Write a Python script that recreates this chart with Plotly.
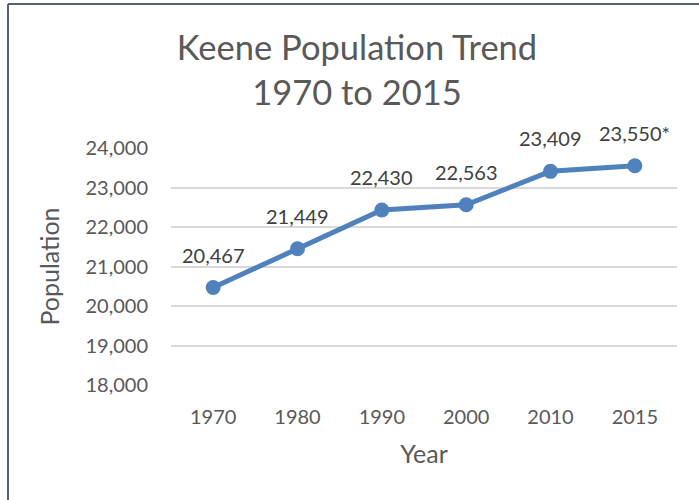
import plotly.graph_objects as go

years = ["1970", "1980", "1990", "2000", "2010", "2015"]
population = [20467, 21449, 22430, 22563, 23409, 23550]
labels = ["20,467", "21,449", "22,430", "22,563", "23,409", "23,550*"]
y_ticks = [18000, 19000, 20000, 21000, 22000, 23000, 24000]
y_tick_text = ["18,000", "19,000", "20,000", "21,000", "22,000", "23,000", "24,000"]

FONT = "Lato, Calibri, sans-serif"
TXT = "#595959"

fig = go.Figure()
fig.add_trace(go.Scatter(
    x=years, y=population, mode="lines+markers",
    line=dict(color="#4f81bd", width=5),
    marker=dict(color="#4f81bd", size=15),
    cliponaxis=False, showlegend=False, hoverinfo="x+y",
))

annotations = [
    dict(x=i, y=y, xref="x", yref="y", text=t, showarrow=False, yshift=33,
         font=dict(family=FONT, size=20, color="#404040"))
    for i, (y, t) in enumerate(zip(population, labels))
]

L, R, T, B = 171, 22, 148, 115
pw = 699 - L - R
ph = 500 - T - B
bx = (8 - L) / pw
by = (500 - B - 4) / ph

fig.update_layout(
    width=699, height=500,
    margin=dict(l=L, r=R, t=T, b=B),
    paper_bgcolor="white", plot_bgcolor="white",
    font=dict(family=FONT, color=TXT, size=20),
    title=dict(text="Keene Population Trend<br>1970 to 2015",
               x=357 / 699, xanchor="center",
               y=1 - 60 / 500, yanchor="middle",
               font=dict(family=FONT, size=34.5, color=TXT)),
    xaxis=dict(type="category", range=[-0.5, 5.5], showgrid=False,
               showline=False, zeroline=False, ticks="",
               ticklabelstandoff=18,
               tickfont=dict(family=FONT, size=20, color=TXT),
               title=dict(text="Year", standoff=18,
                          font=dict(family=FONT, size=25, color=TXT))),
    yaxis=dict(range=[18000, 24000], tickvals=y_ticks, ticktext=y_tick_text,
               showgrid=True, gridcolor="#d9d9d9", gridwidth=1.5,
               zeroline=False, showline=False, ticks="",
               ticklabelstandoff=22,
               tickfont=dict(family=FONT, size=20, color=TXT),
               title=dict(text="Population", standoff=18,
                          font=dict(family=FONT, size=25, color=TXT))),
    annotations=annotations,
    shapes=[
        dict(type="line", xref="paper", yref="paper", x0=bx, x1=bx, y0=by, y1=-1,
             line=dict(color="#56627a", width=2)),
        dict(type="line", xref="paper", yref="paper", x0=bx, x1=2, y0=by, y1=by,
             line=dict(color="#56627a", width=2)),
    ],
)

fig.write_html("out.html", config={"displayModeBar": False},
               post_script="document.body.style.margin='0';")
